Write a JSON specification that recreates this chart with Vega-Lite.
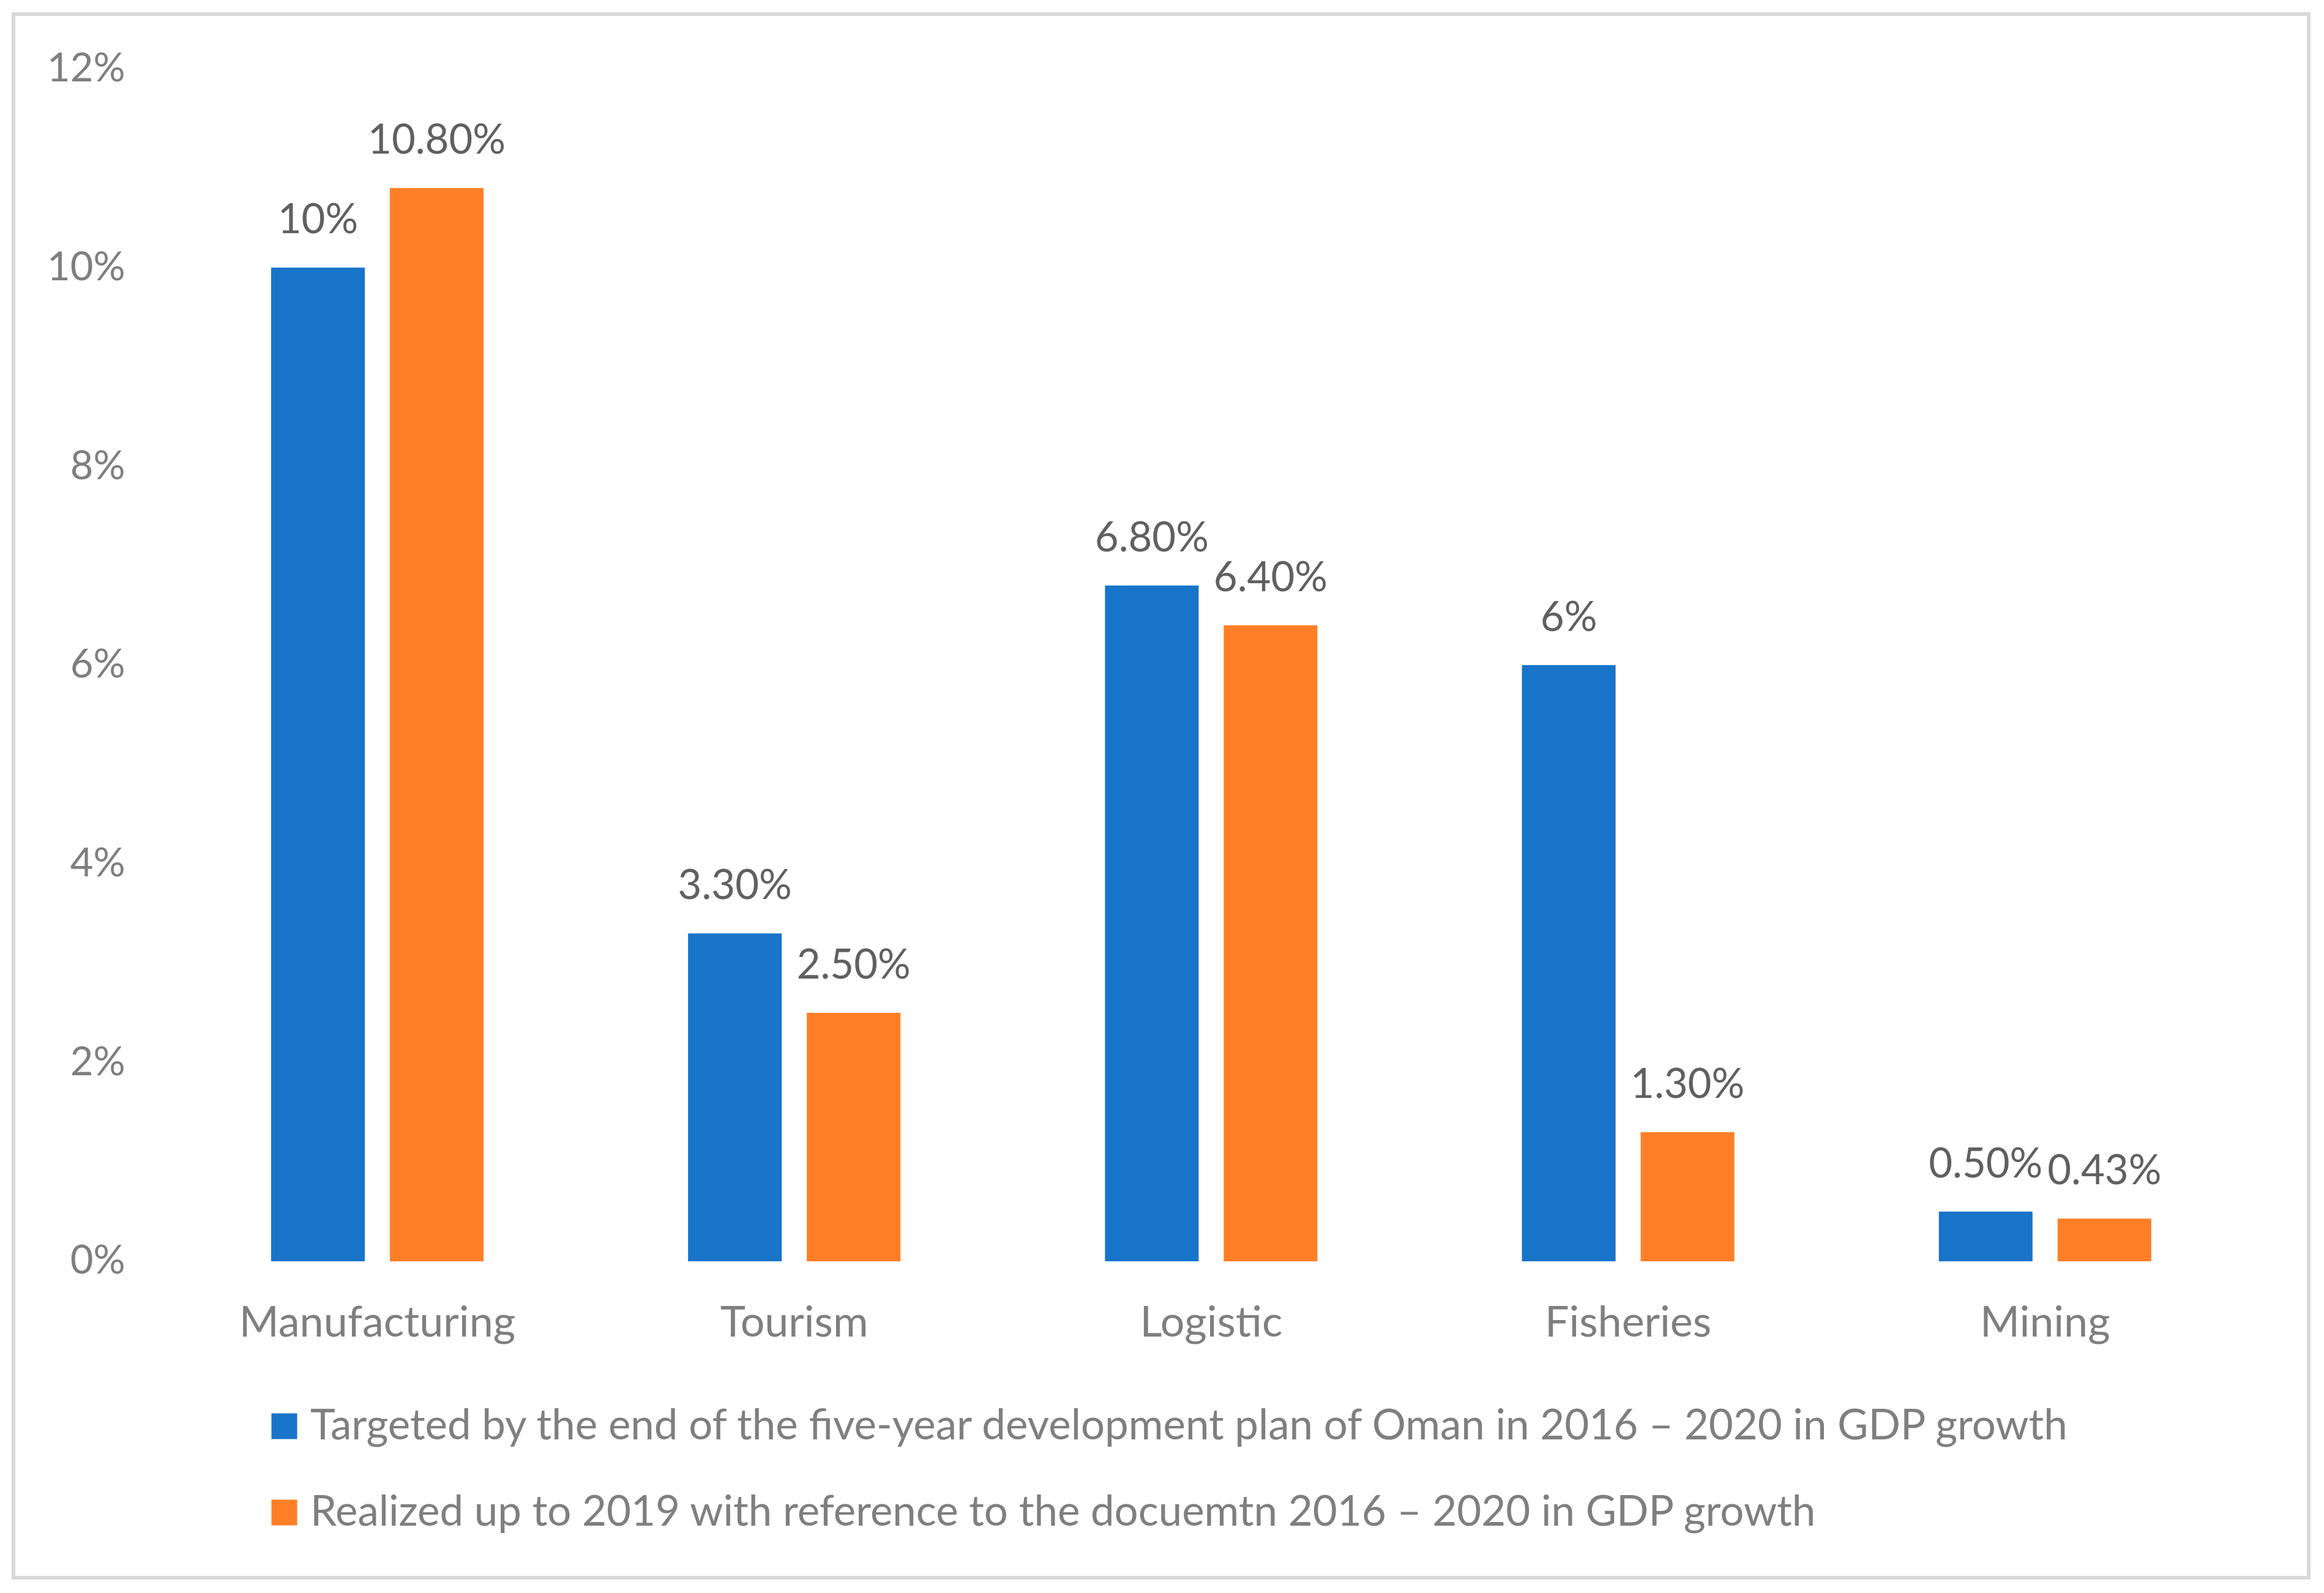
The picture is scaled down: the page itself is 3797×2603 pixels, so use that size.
{
  "$schema": "https://vega.github.io/schema/vega-lite/v6.json",
  "autosize": "none",
  "width": 3750,
  "height": 2555,
  "padding": {"left": 22, "top": 23, "right": 25, "bottom": 25},
  "background": "white",
  "config": {
    "view": {"stroke": "#D9D9D9", "strokeWidth": 6, "fill": "white"},
    "font": "Lato"
  },
  "data": {
    "values": [
      {"sector": "Manufacturing", "series": "Targeted by the end of the five-year development plan of Oman in 2016 – 2020 in GDP growth", "value": 0.10, "label": "10%"},
      {"sector": "Manufacturing", "series": "Realized up to 2019 with reference to the docuemtn 2016 – 2020 in GDP growth", "value": 0.108, "label": "10.80%"},
      {"sector": "Tourism", "series": "Targeted by the end of the five-year development plan of Oman in 2016 – 2020 in GDP growth", "value": 0.033, "label": "3.30%"},
      {"sector": "Tourism", "series": "Realized up to 2019 with reference to the docuemtn 2016 – 2020 in GDP growth", "value": 0.025, "label": "2.50%"},
      {"sector": "Logistic", "series": "Targeted by the end of the five-year development plan of Oman in 2016 – 2020 in GDP growth", "value": 0.068, "label": "6.80%"},
      {"sector": "Logistic", "series": "Realized up to 2019 with reference to the docuemtn 2016 – 2020 in GDP growth", "value": 0.064, "label": "6.40%"},
      {"sector": "Fisheries", "series": "Targeted by the end of the five-year development plan of Oman in 2016 – 2020 in GDP growth", "value": 0.06, "label": "6%"},
      {"sector": "Fisheries", "series": "Realized up to 2019 with reference to the docuemtn 2016 – 2020 in GDP growth", "value": 0.013, "label": "1.30%"},
      {"sector": "Mining", "series": "Targeted by the end of the five-year development plan of Oman in 2016 – 2020 in GDP growth", "value": 0.005, "label": "0.50%"},
      {"sector": "Mining", "series": "Realized up to 2019 with reference to the docuemtn 2016 – 2020 in GDP growth", "value": 0.0043, "label": "0.43%"}
    ]
  },
  "encoding": {
    "x": {
      "field": "sector",
      "type": "nominal",
      "sort": null,
      "scale": {"domain": ["Manufacturing", "Tourism", "Logistic", "Fisheries", "Mining"], "paddingInner": 0, "paddingOuter": 0.2525, "align": 0.738},
      "axis": {
        "title": null,
        "orient": "bottom",
        "offset": -517,
        "domain": false,
        "ticks": false,
        "tickSize": 0,
        "labelPadding": 122,
        "labelBaseline": "alphabetic",
        "labelAngle": 0,
        "labelLimit": 0,
        "labelFont": "Lato",
        "labelFontSize": 70,
        "labelColor": "#7F7F7F"
      }
    },
    "y": {
      "field": "value",
      "type": "quantitative",
      "scale": {"domain": [-0.03184, 0.125512], "nice": false, "zero": false},
      "axis": {
        "title": null,
        "values": [0, 0.02, 0.04, 0.06, 0.08, 0.1, 0.12],
        "format": ".0%",
        "offset": -182,
        "domain": false,
        "ticks": false,
        "tickSize": 0,
        "grid": false,
        "labelPadding": 0,
        "labelBaseline": "middle",
        "labelFont": "Lato",
        "labelFontSize": 65,
        "labelColor": "#7F7F7F"
      }
    }
  },
  "layer": [
    {
      "mark": {"type": "bar", "stroke": null},
      "encoding": {
        "xOffset": {
          "field": "series",
          "type": "nominal",
          "sort": null,
          "scale": {"paddingInner": 0.2113, "paddingOuter": 0.861}
        },
        "y2": {"datum": 0},
        "color": {
          "field": "series",
          "type": "nominal",
          "sort": null,
          "scale": {
            "domain": [
              "Targeted by the end of the five-year development plan of Oman in 2016 – 2020 in GDP growth",
              "Realized up to 2019 with reference to the docuemtn 2016 – 2020 in GDP growth"
            ],
            "range": ["#1874C9", "#FF7F27"]
          },
          "legend": {
            "title": null,
            "orient": "none",
            "legendX": 408,
            "legendY": 2273,
            "direction": "vertical",
            "padding": 0,
            "symbolType": "square",
            "symbolSize": 1764,
            "symbolStrokeWidth": 0,
            "symbolOpacity": 1,
            "labelFont": "Lato",
            "labelFontSize": 69,
            "labelColor": "#7F7F7F",
            "labelOffset": 8,
            "labelLimit": 0,
            "rowPadding": 71
          }
        }
      }
    },
    {
      "mark": {"type": "text", "baseline": "alphabetic", "align": "center", "dy": -56, "font": "Lato", "fontSize": 67, "color": "#606060"},
      "encoding": {
        "xOffset": {
          "field": "series",
          "type": "nominal",
          "sort": null,
          "scale": {"paddingInner": 0.2113, "paddingOuter": 0.861}
        },
        "text": {"field": "label"}
      }
    },
    {
      "data": {"values": [{"from": "Manufacturing", "to": "Mining"}]},
      "mark": {"type": "rule", "color": "#D9D9D9", "strokeWidth": 7},
      "encoding": {
        "x": {"field": "from", "type": "nominal", "bandPosition": 0},
        "x2": {"field": "to", "bandPosition": 1},
        "y": {"datum": 0}
      }
    }
  ]
}
